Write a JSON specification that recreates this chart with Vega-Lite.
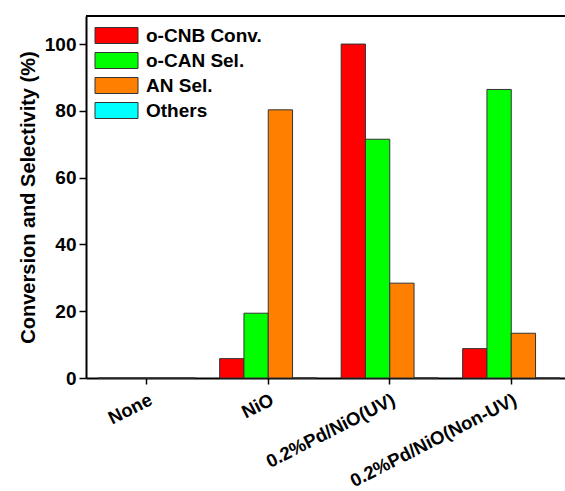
{
  "$schema": "https://vega.github.io/schema/vega-lite/v6.json",
  "width": 479,
  "height": 362,
  "autosize": {"type": "none"},
  "padding": {"left": 86, "top": 16, "right": 0, "bottom": 113},
  "config": {
    "view": {"stroke": null},
    "font": "Liberation Sans"
  },
  "data": {
    "values": [
      {"catalyst": "None", "series": "o-CNB Conv.", "value": 0},
      {"catalyst": "None", "series": "o-CAN Sel.", "value": 0},
      {"catalyst": "None", "series": "AN Sel.", "value": 0},
      {"catalyst": "None", "series": "Others", "value": 0},
      {"catalyst": "NiO", "series": "o-CNB Conv.", "value": 5.8},
      {"catalyst": "NiO", "series": "o-CAN Sel.", "value": 19.4},
      {"catalyst": "NiO", "series": "AN Sel.", "value": 80.3},
      {"catalyst": "NiO", "series": "Others", "value": 0},
      {"catalyst": "0.2%Pd/NiO(UV)", "series": "o-CNB Conv.", "value": 100},
      {"catalyst": "0.2%Pd/NiO(UV)", "series": "o-CAN Sel.", "value": 71.5},
      {"catalyst": "0.2%Pd/NiO(UV)", "series": "AN Sel.", "value": 28.4},
      {"catalyst": "0.2%Pd/NiO(UV)", "series": "Others", "value": 0},
      {"catalyst": "0.2%Pd/NiO(Non-UV)", "series": "o-CNB Conv.", "value": 8.8},
      {"catalyst": "0.2%Pd/NiO(Non-UV)", "series": "o-CAN Sel.", "value": 86.4},
      {"catalyst": "0.2%Pd/NiO(Non-UV)", "series": "AN Sel.", "value": 13.4},
      {"catalyst": "0.2%Pd/NiO(Non-UV)", "series": "Others", "value": 0}
    ]
  },
  "layer": [
    {
      "mark": {"type": "bar", "stroke": "#333333", "strokeWidth": 1},
      "encoding": {
        "x": {
          "field": "catalyst",
          "type": "nominal",
          "sort": ["None", "NiO", "0.2%Pd/NiO(UV)", "0.2%Pd/NiO(Non-UV)"],
          "scale": {"range": [0, 486], "paddingInner": 0.2, "paddingOuter": 0.1},
          "axis": {
            "title": null,
            "labelAngle": -27,
            "labelAlign": "right",
            "labelBaseline": "top",
            "labelFontSize": 18.5,
            "labelFontWeight": "bold",
            "labelColor": "#000000",
            "labelPadding": 6,
            "labelLimit": 0,
            "labelOverlap": false,
            "domainColor": "#000000",
            "domainWidth": 2,
            "tickColor": "#000000",
            "tickWidth": 1.5,
            "tickSize": 6
          }
        },
        "xOffset": {
          "field": "series",
          "type": "nominal",
          "sort": ["o-CNB Conv.", "o-CAN Sel.", "AN Sel.", "Others"]
        },
        "y": {
          "field": "value",
          "type": "quantitative",
          "scale": {"domain": [0, 108.4], "nice": false, "zero": true},
          "axis": {
            "title": "Conversion and Selectivity (%)",
            "titleFontSize": 20,
            "titleFontWeight": "bold",
            "titleColor": "#000000",
            "titlePadding": 6,
            "values": [0, 10, 20, 30, 40, 50, 60, 70, 80, 90, 100],
            "labelExpr": "datum.value % 20 === 0 ? datum.label : ''",
            "labelFontSize": 19,
            "labelFontWeight": "bold",
            "labelColor": "#000000",
            "labelPadding": 3,
            "grid": false,
            "domainColor": "#000000",
            "domainWidth": 2,
            "tickColor": "#000000",
            "tickWidth": 1.5,
            "tickSize": {"condition": {"test": "datum.value % 20 === 0", "value": 7}, "value": 4}
          }
        },
        "color": {
          "field": "series",
          "type": "nominal",
          "sort": ["o-CNB Conv.", "o-CAN Sel.", "AN Sel.", "Others"],
          "scale": {
            "domain": ["o-CNB Conv.", "o-CAN Sel.", "AN Sel.", "Others"],
            "range": ["#FF0000", "#00FF00", "#FF8000", "#00FFFF"]
          },
          "legend": {
            "title": null,
            "orient": "none",
            "legendX": 20,
            "legendY": 9,
            "symbolType": "M-2.15,-0.8H2.15V0.8H-2.15Z",
            "symbolSize": 400,
            "symbolStrokeColor": "#333333",
            "symbolStrokeWidth": 1,
            "symbolOpacity": 1,
            "labelFontSize": 19,
            "labelFontWeight": "bold",
            "labelColor": "#000000",
            "labelOffset": 19,
            "rowPadding": 4,
            "padding": 0
          }
        }
      }
    },
    {
      "mark": {"type": "rule", "color": "#000000", "strokeWidth": 2},
      "encoding": {"y": {"datum": 108.4}}
    }
  ]
}
